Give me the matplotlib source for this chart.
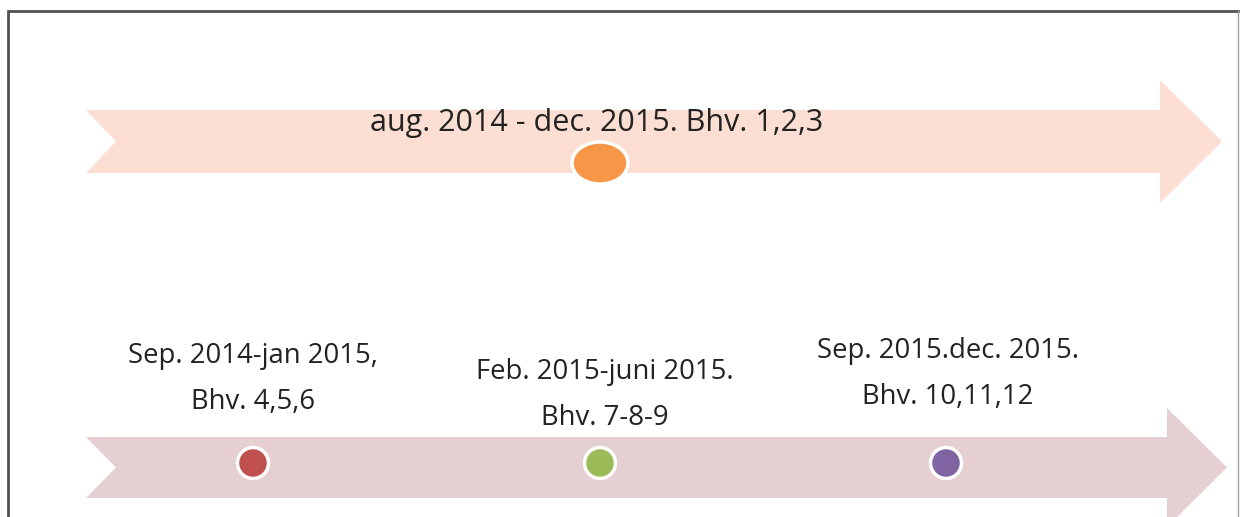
import matplotlib
matplotlib.use('Agg')
from matplotlib import pyplot as plt
from matplotlib.patches import Polygon, Ellipse, Circle, Rectangle

# Timeline content
top_label = 'aug. 2014 - dec. 2015. Bhv. 1,2,3'
top_x = 600

phase_labels = ['Sep. 2014-jan 2015,\nBhv. 4,5,6',
                'Feb. 2015-juni 2015.\nBhv. 7-8-9',
                'Sep. 2015.dec. 2015.\nBhv. 10,11,12']
phase_x = [253, 600, 946]
phase_text_x = [253, 605, 948]
phase_text_y = [379, 395, 374]
phase_colors = ['#C0504D', '#9BBB59', '#8064A2']

plt.rcParams['font.family'] = ['Open Sans', 'DejaVu Sans']

fig = plt.figure(figsize=(12.4, 5.17), dpi=100)
ax = fig.add_axes([0, 0, 1, 1])
ax.set_xlim(0, 1240)
ax.set_ylim(517, 0)
ax.axis('off')


def arrow(y0, y1, head0, head1, x_end, tip, color):
    yc = (y0 + y1) / 2
    pts = [(86, y0), (x_end, y0), (x_end, head0), (tip, yc),
           (x_end, head1), (x_end, y1), (86, y1), (116, yc)]
    ax.add_patch(Polygon(pts, closed=True, facecolor=color,
                         edgecolor='none'))


# frame: dark on left/top, lighter on the right
ax.plot([7.5, 7.5, 1238], [530, 10.5, 10.5], color='#505050', lw=2,
        solid_joinstyle='miter')
ax.plot([1238, 1238], [10.5, 530], color='#A0A0A0', lw=1)

arrow(110, 173, 80, 203, 1160, 1222, '#FCDED3')
arrow(437, 498, 408, 527, 1167, 1227, '#E6CFD0')

ax.text(597, 123, top_label, ha='center', va='center', fontsize=22,
        color='#222222')
ax.add_patch(Ellipse((600, 163), 56, 42, facecolor='#F79646',
                     edgecolor='white', linewidth=2.5))

for x, tx, ty, lab, c in zip(phase_x, phase_text_x, phase_text_y,
                             phase_labels, phase_colors):
    ax.text(tx, ty, lab, ha='center', va='center', fontsize=19.8,
            color='#222222', linespacing=1.85)
    ax.add_patch(Circle((x, 463), 15.5, facecolor=c, edgecolor='white',
                        linewidth=2.5))

plt.savefig('out.png', dpi=100)
